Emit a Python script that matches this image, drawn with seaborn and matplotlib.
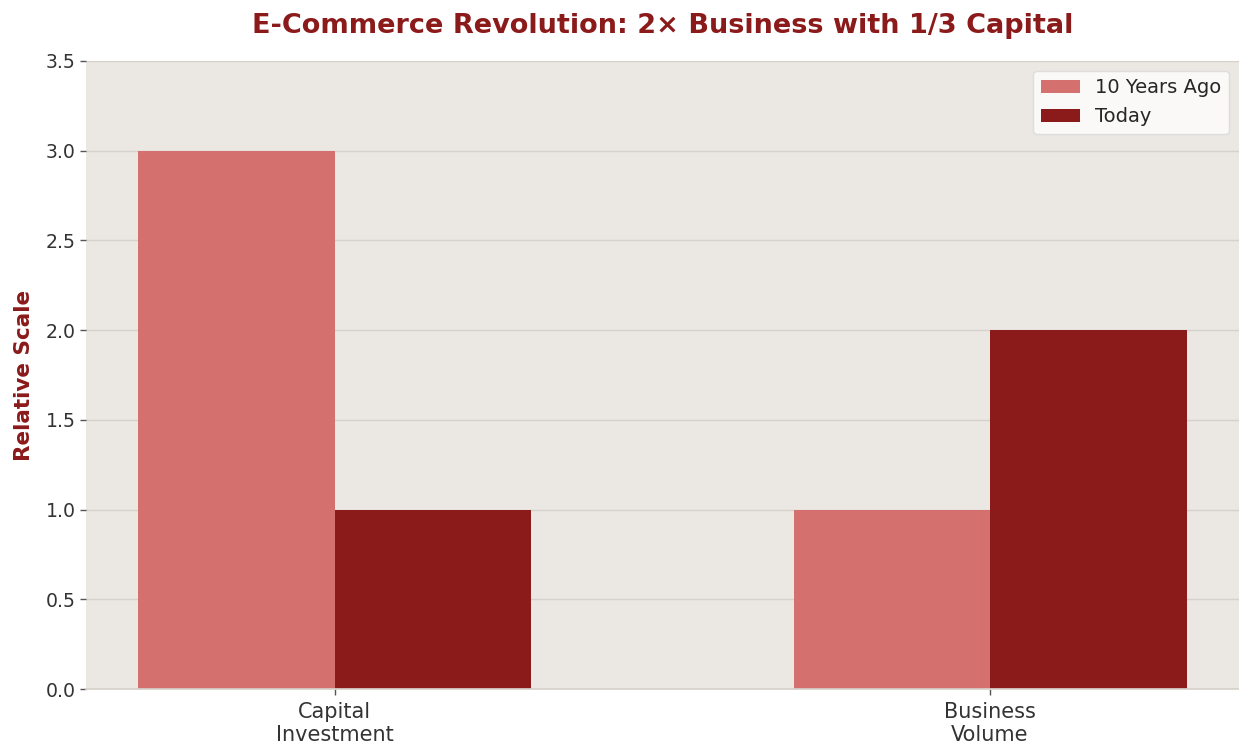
import matplotlib
matplotlib.use("Agg")
import matplotlib.pyplot as plt
import seaborn as sns
import pandas as pd

categories = ["Capital\nInvestment", "Business\nVolume"]
series_names = ["10 Years Ago", "Today"]
ten_years_ago = [3.0, 1.0]
today = [1.0, 2.0]
colors = ["#D4706D", "#8B1A1A"]

df = pd.DataFrame({
    "Category": categories * 2,
    "Period": [series_names[0]] * 2 + [series_names[1]] * 2,
    "Value": ten_years_ago + today,
})

sns.set_theme(style="whitegrid")
plt.rcParams['font.family'] = ['DejaVu Sans']

fig = plt.figure(figsize=(12.39, 7.49), dpi=100)
ax = fig.add_axes([0.0694, 0.0801, 0.9306, 0.8385])
ax.set_facecolor("#EBE7E2")

sns.barplot(data=df, x="Category", y="Value", hue="Period", palette=colors,
            width=0.6, ax=ax, saturation=1, edgecolor="none")

ax.set_xlim(-0.38, 1.38)
ax.set_ylim(0, 3.5)
ax.set_yticks([0, 0.5, 1.0, 1.5, 2.0, 2.5, 3.0, 3.5])
ax.grid(axis="y", color="#D6D1CB", linewidth=1)
ax.grid(axis="x", visible=False)
ax.set_axisbelow(True)
for s in ["left", "right", "top"]:
    ax.spines[s].set_visible(False)
ax.spines["bottom"].set_color("#D6D1CB")
ax.tick_params(axis="both", colors="#333333", length=4, width=1, color="#555555", left=True, bottom=True)
ax.tick_params(axis="y", labelsize=13.6)
ax.tick_params(axis="x", labelsize=15, pad=5)

ax.set_xlabel("")
ax.set_ylabel("Relative Scale", fontsize=15.5, fontweight="bold", color="#8B1A1A", labelpad=8)
ax.set_title("E-Commerce Revolution: 2× Business with 1/3 Capital", fontsize=19.5,
             fontweight="bold", color="#8B1A1A", pad=20)

leg = ax.legend(loc="upper right", fontsize=14, frameon=True, facecolor="#FAF9F7",
                edgecolor="#DDDDDD", framealpha=1)
leg.get_frame().set_linewidth(1)

fig.savefig("out.png", dpi=100)
